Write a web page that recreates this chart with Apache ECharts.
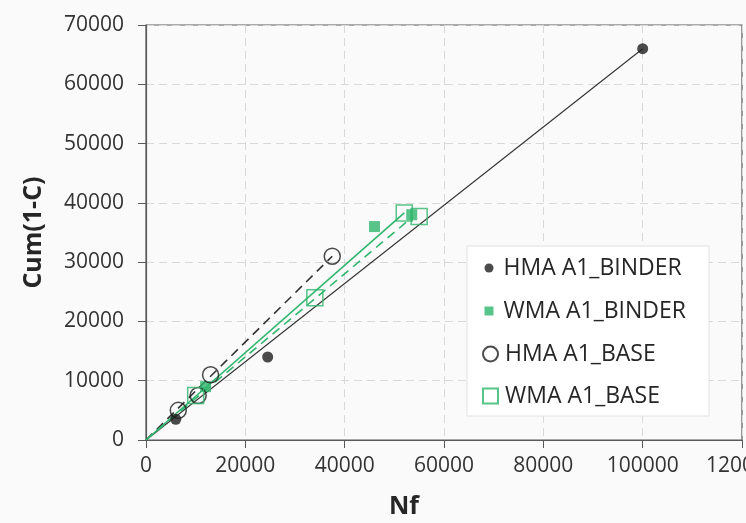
<!DOCTYPE html>
<html>
<head>
<meta charset="utf-8">
<script src="https://cdn.jsdelivr.net/npm/echarts@6/dist/echarts.min.js"></script>
<style>
  html, body { margin: 0; padding: 0; background: #fafafa; }
  #chart { width: 746px; height: 523px; }
</style>
</head>
<body>
<div id="chart"></div>
<script>
// measured points [Nf, Cum(1-C)]
var hmaBinder = [[6000, 3500], [24500, 14000], [100000, 66000]];
var wmaBinder = [[12000, 9000], [46000, 36000], [53500, 38000]];
var hmaBase = [[6500, 5000], [10500, 7500], [13000, 11000], [37500, 31000]];
var wmaBase = [[10000, 7500], [34000, 24000], [52000, 38300], [55000, 37700]];

// trend lines through origin
var hmaBinderFit = [[0, 0], [100000, 66000]];
var hmaBaseFit = [[0, 0], [37500, 31000]];
var wmaBinderFit = [[0, 0], [53500, 37500]];
var wmaBaseFit = [[0, 0], [52000, 38300]];

var seriesNames = ['HMA A1_BINDER', 'WMA A1_BINDER', 'HMA A1_BASE', 'WMA A1_BASE'];
var xTicks = [0, 20000, 40000, 60000, 80000, 100000, 120000];
var yTicks = [0, 10000, 20000, 30000, 40000, 50000, 60000, 70000];

var green = '#2fb56c';
var dark = '#1e1e1e';
var font = '"Open Sans", sans-serif';

function lgd(name, top, left, size, pad) {
  return {
    data: [name],
    orient: 'vertical',
    left: left,
    top: top,
    padding: 0,
    itemWidth: size,
    itemHeight: size,
    selectedMode: false,
    textStyle: {
      fontFamily: font,
      fontSize: 23,
      color: '#262626',
      lineHeight: 26,
      padding: [0, 0, 0, pad]
    }
  };
}

function plain(v) {
  return String(v);
}

var option = {
  backgroundColor: '#fafafa',
  animation: false,
  grid: {
    left: 146,
    right: 4,
    top: 25,
    bottom: 83,
    outerBoundsMode: 'none',
    containLabel: false,
    show: true,
    borderColor: '#595959',
    borderWidth: 1.2
  },
  graphic: [{
    type: 'rect',
    z: 3,
    shape: { x: 467, y: 246, width: 242, height: 170 },
    style: { fill: '#ffffff', stroke: '#e2e2e2', lineWidth: 1 }
  }],
  legend: [
    lgd(seriesNames[0], 268 - 13, 484.5, 9, 5),
    lgd(seriesNames[1], 311 - 13, 484.5, 9, 5),
    lgd(seriesNames[2], 354 - 13, 482, 15, 2),
    lgd(seriesNames[3], 396 - 13, 482, 15, 2)
  ],
  xAxis: {
    type: 'value',
    min: xTicks[0],
    max: xTicks[xTicks.length - 1],
    interval: xTicks[1] - xTicks[0],
    name: 'Nf',
    nameLocation: 'middle',
    nameGap: 54,
    nameTextStyle: {
      fontFamily: font,
      fontSize: 25,
      fontWeight: 'bold',
      color: '#262626',
      padding: [0, 80, 0, 0]
    },
    axisLine: { show: true, lineStyle: { color: '#595959', width: 1.2 } },
    axisTick: { show: true, length: 8, lineStyle: { color: '#595959' } },
    axisLabel: {
      fontFamily: font,
      fontSize: 21,
      color: '#333',
      margin: 16,
      formatter: plain
    },
    splitLine: { show: true, lineStyle: { color: '#d9d9d9', type: [8, 5], width: 1 } }
  },
  yAxis: {
    type: 'value',
    min: yTicks[0],
    max: yTicks[yTicks.length - 1],
    interval: yTicks[1] - yTicks[0],
    name: 'Cum(1-C)',
    nameLocation: 'middle',
    nameGap: 100,
    nameTextStyle: {
      fontFamily: font,
      fontSize: 25,
      fontWeight: 'bold',
      color: '#262626'
    },
    axisLine: { show: true, lineStyle: { color: '#595959', width: 1.2 } },
    axisTick: { show: true, length: 8, lineStyle: { color: '#595959' } },
    axisLabel: {
      fontFamily: font,
      fontSize: 21,
      color: '#333',
      margin: 22,
      formatter: plain
    },
    splitLine: { show: true, lineStyle: { color: '#d9d9d9', type: [8, 5], width: 1 } }
  },
  series: [
    {
      name: 'fit1', type: 'line', data: hmaBinderFit, showSymbol: false, z: 1,
      lineStyle: { color: '#333', width: 1.1 }
    },
    {
      name: 'fit2', type: 'line', data: hmaBaseFit, showSymbol: false, z: 1,
      lineStyle: { color: '#333', width: 1.6, type: [9, 6] }
    },
    {
      name: 'fit3', type: 'line', data: wmaBinderFit, showSymbol: false, z: 1,
      lineStyle: { color: green, width: 1.6, type: [9, 6] }
    },
    {
      name: 'fit4', type: 'line', data: wmaBaseFit, showSymbol: false, z: 1,
      lineStyle: { color: green, width: 1.6 }
    },
    {
      name: seriesNames[0], type: 'scatter', data: hmaBinder, symbol: 'circle', symbolSize: 11,
      itemStyle: { color: dark }
    },
    {
      name: seriesNames[1], type: 'scatter', data: wmaBinder, symbol: 'rect', symbolSize: 11,
      itemStyle: { color: green }
    },
    {
      name: seriesNames[2], type: 'scatter', data: hmaBase, symbol: 'circle', symbolSize: 16,
      itemStyle: { color: 'rgba(0,0,0,0)', borderColor: dark, borderWidth: 1.5 }
    },
    {
      name: seriesNames[3], type: 'scatter', data: wmaBase, symbol: 'rect', symbolSize: 16,
      itemStyle: { color: 'rgba(0,0,0,0)', borderColor: green, borderWidth: 1.5 }
    }
  ]
};

var myChart = echarts.init(document.getElementById('chart'));
myChart.setOption(option);
window.addEventListener('resize', function () {
  myChart.resize();
});
</script>
</body>
</html>
